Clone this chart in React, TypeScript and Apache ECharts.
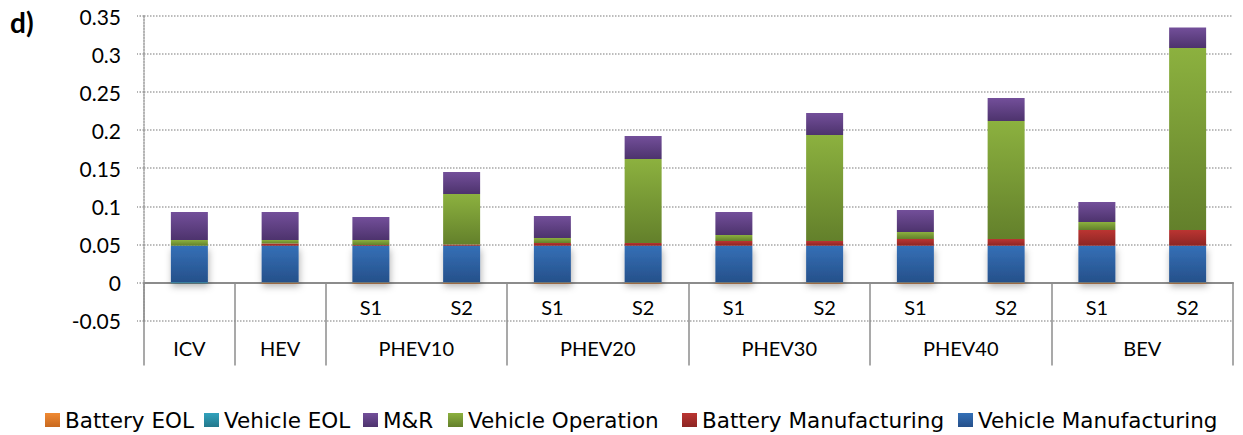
import React, { useEffect, useRef } from 'react';
import * as echarts from 'echarts';

const categories = ['ICV', 'HEV', 'PHEV10 S1', 'PHEV10 S2', 'PHEV20 S1', 'PHEV20 S2', 'PHEV30 S1', 'PHEV30 S2', 'PHEV40 S1', 'PHEV40 S2', 'BEV S1', 'BEV S2'];
const subLabels = ['', '', 'S1', 'S2', 'S1', 'S2', 'S1', 'S2', 'S1', 'S2', 'S1', 'S2'];
const groupNames = ['ICV', 'HEV', 'PHEV10', 'PHEV20', 'PHEV30', 'PHEV40', 'BEV'];
const groupBounds = [0, 1, 2, 4, 6, 8, 10, 12];
const groupCenters = [0.5, 1.5, 3, 5, 7, 9, 11];

const vehicleManufacturing = [0.0483, 0.0483, 0.0483, 0.0483, 0.0483, 0.0483, 0.0483, 0.0483, 0.0483, 0.0483, 0.0483, 0.0483];
const batteryManufacturing = [0, 0.0027, 0.001, 0.0014, 0.0036, 0.0036, 0.0062, 0.0062, 0.0088, 0.0088, 0.0207, 0.0207];
const vehicleOperation = [0.0075, 0.0048, 0.0065, 0.0665, 0.0065, 0.1103, 0.0079, 0.1392, 0.0092, 0.155, 0.0105, 0.239];
const mAndR = [0.0368, 0.0368, 0.0302, 0.0289, 0.0289, 0.0302, 0.0302, 0.0289, 0.0289, 0.0302, 0.0262, 0.0269];
const vehicleEOL = [-0.0012, -0.0005, -0.0005, -0.0005, -0.0005, -0.0005, -0.0005, -0.0005, -0.0005, -0.0005, -0.0005, -0.0005];
const batteryEOL = [0, -0.0008, -0.0008, -0.0008, -0.0008, -0.0008, -0.0008, -0.0008, -0.0008, -0.0008, -0.0008, -0.0008];

const legendOrder = ['Battery EOL', 'Vehicle EOL', 'M&R', 'Vehicle Operation', 'Battery Manufacturing', 'Vehicle Manufacturing'];
const legendLefts = [45, 204, 363, 448, 682, 958];

const FONT = 'Lato';
const LEGEND_FONT = 'DejaVu Sans';

function grad(top: string, bottom: string) {
  return new echarts.graphic.LinearGradient(0, 0, 0, 1, [
    { offset: 0, color: top },
    { offset: 1, color: bottom },
  ]);
}

export default function App() {
  const ref = useRef<HTMLDivElement>(null);
  useEffect(() => {
    document.body.style.margin = '0';
    const chart = echarts.init(ref.current!, null, { renderer: 'svg' });
    const mk = (name: string, data: number[], top: string, bottom: string, shadow = false) => ({
      name,
      type: 'bar',
      stack: 'total',
      data,
      barWidth: 37,
      itemStyle: shadow
        ? { color: grad(top, bottom), shadowBlur: 7, shadowColor: 'rgba(0,0,0,0.3)', shadowOffsetY: 4, shadowOffsetX: 1 }
        : { color: grad(top, bottom) },
    });
    const AXIS_OFFSET = -38.06;
    chart.setOption({
      animation: false,
      backgroundColor: '#ffffff',
      textStyle: { fontFamily: FONT },
      graphic: [
        {
          type: 'text',
          left: 10,
          top: 8,
          style: { text: 'd)', font: `bold 28px ${FONT}`, fill: '#000' },
        },
      ],
      grid: { left: 144, right: 10, top: 16, height: 304.5 },
      legend: legendOrder.map((name, i) => ({
        data: [name],
        left: legendLefts[i],
        top: 409,
        padding: 0,
        icon: 'rect',
        itemWidth: 15,
        itemHeight: 14,
        textStyle: { fontSize: 21.5, color: '#000', fontFamily: LEGEND_FONT },
      })),
      xAxis: [
        {
          type: 'category',
          data: categories,
          position: 'bottom',
          offset: AXIS_OFFSET,
          axisLine: { onZero: false, lineStyle: { color: '#8c8c8c', width: 2 } },
          axisTick: { interval: 0, length: 41, lineStyle: { color: '#8c8c8c', width: 1.5 } },
          axisLabel: {
            interval: 0,
            margin: 14.5,
            fontSize: 20,
            color: '#000',
            fontFamily: FONT,
            formatter: (_v: string, i: number) => subLabels[i],
          },
          splitLine: { show: false },
        },
        {
          type: 'value',
          min: 0,
          max: 12,
          position: 'bottom',
          offset: AXIS_OFFSET,
          axisLine: { show: false, onZero: false },
          axisTick: { show: true, customValues: groupBounds, length: 83, lineStyle: { color: '#8c8c8c', width: 1.5 } },
          axisLabel: {
            customValues: groupCenters,
            margin: 55.5,
            fontSize: 20,
            color: '#000',
            fontFamily: FONT,
            formatter: (v: number) => {
              const i = groupCenters.indexOf(v);
              return i >= 0 ? groupNames[i] : '';
            },
          },
          splitLine: { show: false },
        },
      ],
      yAxis: {
        type: 'value',
        min: -0.05,
        max: 0.35,
        interval: 0.05,
        axisLine: { show: true, lineStyle: { color: '#9a9a9a', type: 'dotted', width: 1.5 } },
        axisTick: { show: true, length: 7, lineStyle: { color: '#9a9a9a', type: 'dotted', width: 1.5 } },
        axisLabel: { fontSize: 21, color: '#000', fontFamily: FONT, margin: 23 },
        splitLine: { show: true, lineStyle: { color: '#a6a6a6', type: 'dotted', width: 1.5 } },
      },
      series: [
        mk('Vehicle Manufacturing', vehicleManufacturing, '#3470b7', '#26508a', true),
        mk('Battery Manufacturing', batteryManufacturing, '#bb3532', '#8c2523'),
        mk('Vehicle Operation', vehicleOperation, '#8cb13f', '#63802b'),
        mk('M&R', mAndR, '#734f9a', '#4d336d'),
        mk('Vehicle EOL', vehicleEOL, '#31a2bd', '#23788c'),
        mk('Battery EOL', batteryEOL, '#f08a33', '#c8691f'),
      ],
    });
    return () => chart.dispose();
  }, []);
  return <div ref={ref} style={{ width: 1243, height: 435 }} />;
}
